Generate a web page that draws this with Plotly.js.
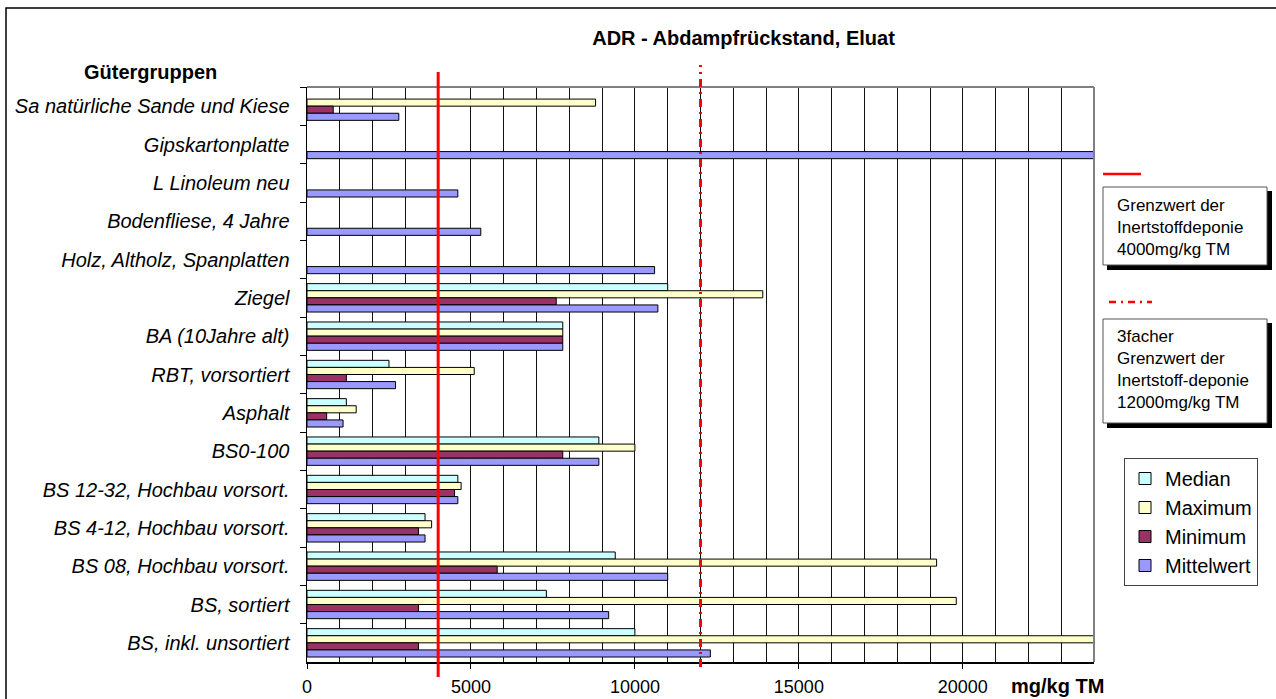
<!DOCTYPE html>
<html>
<head>
<meta charset="utf-8">
<script src="https://cdn.plot.ly/plotly-3.0.1.min.js"></script>
<style>
  html, body { margin: 0; padding: 0; background: #fff; }
  #chart { width: 1276px; height: 699px; }
</style>
</head>
<body>
<div id="chart"></div>
<script>
// ---- Data (categories listed top to bottom) ----
const categories = [
  "Sa natürliche Sande und Kiese",
  "Gipskartonplatte",
  "L Linoleum neu",
  "Bodenfliese, 4 Jahre",
  "Holz, Altholz, Spanplatten",
  "Ziegel",
  "BA (10Jahre alt)",
  "RBT, vorsortiert",
  "Asphalt",
  "BS0-100",
  "BS 12-32, Hochbau vorsort.",
  "BS 4-12, Hochbau vorsort.",
  "BS 08, Hochbau vorsort.",
  "BS, sortiert",
  "BS, inkl. unsortiert"
];
const median     = [null, null, null, null, null, 11000, 7800, 2500, 1200, 8900, 4600, 3600, 9400, 7300, 10000];
const maximum    = [8800, null, null, null, null, 13900, 7800, 5100, 1500, 10000, 4700, 3800, 19200, 19800, 26000];
const minimum    = [800, null, null, null, null, 7600, 7800, 1200, 600, 7800, 4500, 3400, 5800, 3400, 3400];
const mittelwert = [2800, 26000, 4600, 5300, 10600, 10700, 7800, 2700, 1100, 8900, 4600, 3600, 11000, 9200, 12300];

const seriesNames = ["Median", "Maximum", "Minimum", "Mittelwert"];
const seriesColors = ["#CCFFFF", "#FFFFCC", "#993366", "#9999FF"];
const seriesValues = [median, maximum, minimum, mittelwert];

const xTickVals = [0, 5000, 10000, 15000, 20000];
const grenzwert = 4000;
const grenzwert3 = 12000;

// ---- Layout geometry (pixels) ----
const W = 1276, H = 699;
const L = 307, R = 1094, T = 87, B = 662;
const PW = R - L, PH = B - T;
const px = v => (v - L) / PW;
const py = v => (B - v) / PH;

const FONT = "Liberation Sans, Arial, sans-serif";

const traces = seriesNames.map((name, i) => ({
  type: "bar",
  orientation: "h",
  name: name,
  y: categories,
  x: seriesValues[i],
  marker: { color: seriesColors[i], line: { color: "#000", width: 1 } },
  hoverinfo: "x+y+name"
}));

const shapes = [
  // outer chart border
  { type: "rect", xref: "paper", yref: "paper", x0: px(6), x1: px(1290), y0: py(712), y1: py(8),
    line: { color: "#000", width: 1.5 }, fillcolor: "rgba(0,0,0,0)" },
  // plot area top/right border (gray)
  { type: "line", xref: "paper", yref: "paper", x0: 0, x1: 1, y0: 1, y1: 1, line: { color: "#808080", width: 2 } },
  { type: "line", xref: "paper", yref: "paper", x0: 1, x1: 1, y0: 0, y1: 1, line: { color: "#808080", width: 2 } },
  // limit lines
  { type: "line", xref: "x", yref: "paper", x0: grenzwert, x1: grenzwert, y0: py(677), y1: py(72),
    line: { color: "#FF0000", width: 3 } },
  { type: "line", xref: "x", yref: "paper", x0: grenzwert3, x1: grenzwert3, y0: py(667), y1: py(65),
    line: { color: "#FF0000", width: 3, dash: "8px,5px,2px,5px" } },
  // legend marks for limit lines
  { type: "line", xref: "paper", yref: "paper", x0: px(1103), x1: px(1141), y0: py(174), y1: py(174),
    line: { color: "#FF0000", width: 2.5 } },
  { type: "line", xref: "paper", yref: "paper", x0: px(1109), x1: px(1152), y0: py(302), y1: py(302),
    line: { color: "#FF0000", width: 2.5, dash: "7px,5px,2px,5px" } },
  // box 1 shadow + box
  { type: "rect", xref: "paper", yref: "paper", x0: px(1107), x1: px(1272), y0: py(270), y1: py(191),
    line: { width: 0 }, fillcolor: "#000" },
  { type: "rect", xref: "paper", yref: "paper", x0: px(1103), x1: px(1267), y0: py(265), y1: py(187),
    line: { color: "#555", width: 1 }, fillcolor: "#fff" },
  // box 2 shadow + box
  { type: "rect", xref: "paper", yref: "paper", x0: px(1107), x1: px(1272), y0: py(428), y1: py(323),
    line: { width: 0 }, fillcolor: "#000" },
  { type: "rect", xref: "paper", yref: "paper", x0: px(1103), x1: px(1267), y0: py(423), y1: py(319),
    line: { color: "#555", width: 1 }, fillcolor: "#fff" }
];

const annotations = [
  { xref: "paper", yref: "paper", x: px(150), y: py(72), text: "<b>Gütergruppen</b>", showarrow: false,
    xanchor: "center", yanchor: "middle", font: { family: FONT, size: 20, color: "#000" } },
  { xref: "paper", yref: "paper", x: px(1057), y: py(686), text: "<b>mg/kg TM</b>", showarrow: false,
    xanchor: "center", yanchor: "middle", font: { family: FONT, size: 20, color: "#000" } },
  { xref: "paper", yref: "paper", x: px(1115), y: py(227.5), text: "Grenzwert der<br>Inertstoffdeponie<br>4000mg/kg TM",
    showarrow: false, xanchor: "left", yanchor: "middle", align: "left",
    font: { family: FONT, size: 17, color: "#000" } },
  { xref: "paper", yref: "paper", x: px(1115), y: py(369.5), text: "3facher<br>Grenzwert der<br>Inertstoff-deponie<br>12000mg/kg TM",
    showarrow: false, xanchor: "left", yanchor: "middle", align: "left",
    font: { family: FONT, size: 17, color: "#000" } }
];

const layout = {
  width: W, height: H,
  paper_bgcolor: "#fff", plot_bgcolor: "#fff",
  margin: { l: L, r: W - R, t: T, b: H - B, pad: 0 },
  title: {
    text: "<b>ADR - Abdampfrückstand, Eluat</b>",
    xref: "paper", x: px(743.5), xanchor: "center",
    yref: "container", y: 1 - 38 / H, yanchor: "middle",
    font: { family: FONT, size: 20, color: "#000" }
  },
  barmode: "group",
  bargap: 0.26,
  bargroupgap: 0,
  showlegend: true,
  legend: {
    x: px(1124), y: py(458), xanchor: "left", yanchor: "top",
    bgcolor: "#fff", bordercolor: "#444", borderwidth: 1,
    font: { family: FONT, size: 20, color: "#000" },
    traceorder: "normal", tracegroupgap: 0, itemwidth: 30
  },
  xaxis: {
    range: [0, 24000],
    tickvals: xTickVals,
    ticktext: xTickVals.map(String),
    ticks: "outside", ticklen: 5, tickcolor: "#000",
    ticklabelstandoff: 3,
    showgrid: true, gridcolor: "#111", gridwidth: 1,
    minor: { dtick: 1000, tick0: 0, showgrid: true, gridcolor: "#111", gridwidth: 1, ticks: "" },
    showline: true, linecolor: "#000", linewidth: 1.5,
    zeroline: false,
    tickfont: { family: FONT, size: 18, color: "#000" },
    fixedrange: true
  },
  yaxis: {
    type: "category",
    categoryorder: "array",
    categoryarray: categories,
    autorange: "reversed",
    ticks: "outside", ticklen: 6, tickcolor: "#000", tickson: "boundaries",
    ticklabelstandoff: 12,
    showgrid: false,
    showline: true, linecolor: "#000", linewidth: 1.5,
    zeroline: false,
    tickfont: { family: FONT, size: 20, color: "#000", style: "italic" },
    fixedrange: true
  },
  shapes: shapes,
  annotations: annotations
};

Plotly.newPlot("chart", traces, layout, { displayModeBar: false, staticPlot: true });
</script>
</body>
</html>
